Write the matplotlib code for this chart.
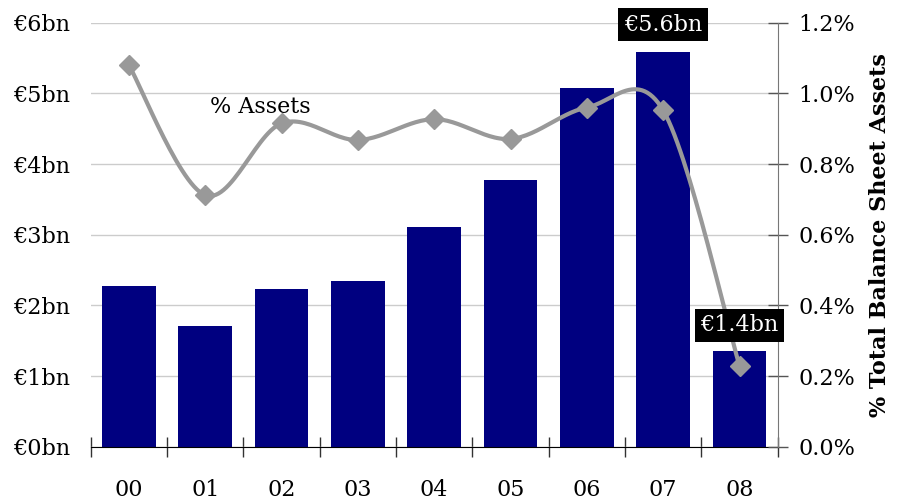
import numpy as np
import matplotlib.pyplot as plt

# dane
years = ['00', '01', '02', '03', '04', '05', '06', '07', '08']
amount_bn = [2.27, 1.71, 2.23, 2.34, 3.11, 3.77, 5.08, 5.59, 1.36]
pct_assets = [1.08, 0.712, 0.915, 0.868, 0.927, 0.871, 0.96, 0.952, 0.229]
left_ticks = ['€0bn', '€1bn', '€2bn', '€3bn', '€4bn', '€5bn', '€6bn']
right_ticks = ['0.0%', '0.2%', '0.4%', '0.6%', '0.8%', '1.0%', '1.2%']

plt.rcParams['font.family'] = ['DejaVu Serif']
FS = 16


def smooth(x, y, n=30):
    # krzywa Catmull-Rom jak "wygladzona linia" w Excelu
    x = np.asarray(x, float)
    y = np.asarray(y, float)
    px = np.concatenate([[x[0]], x, [x[-1]]])
    py = np.concatenate([[y[0]], y, [y[-1]]])
    xs, ys = [], []
    for i in range(1, len(px) - 2):
        p0, p1, p2, p3 = [np.array([px[j], py[j]]) for j in range(i - 1, i + 3)]
        c1 = p1 + (p2 - p0) / 6
        c2 = p2 - (p3 - p1) / 6
        t = np.linspace(0, 1, n)[:, None]
        b = ((1 - t) ** 3) * p1 + 3 * ((1 - t) ** 2) * t * c1 + 3 * (1 - t) * t ** 2 * c2 + t ** 3 * p2
        xs.extend(b[:, 0])
        ys.extend(b[:, 1])
    return xs, ys


fig = plt.figure(figsize=(8.98, 5), dpi=100)
ax = fig.add_axes([0.101, 0.1066, 0.765, 0.848])
x = np.arange(len(years))

ax.bar(x, amount_bn, width=0.7, color='#000080', zorder=2)
ax.set_xlim(-0.5, len(years) - 0.5)
ax.set_ylim(0, 6)
ax.set_yticks(range(7))
ax.set_yticklabels(left_ticks)
ax.tick_params(axis='y', length=0, pad=15, labelsize=FS)
ax.grid(axis='y', color='#cccccc', linewidth=1, zorder=0)
ax.set_axisbelow(True)

ax.set_xticks(x)
ax.set_xticklabels(years)
ax.tick_params(axis='x', length=0, pad=23, labelsize=FS)
ax.set_xticks(np.arange(-0.5, len(years)), minor=True)
ax.tick_params(axis='x', which='minor', direction='inout', length=14, width=1, color='#333333')

for s in ['top', 'right', 'left']:
    ax.spines[s].set_visible(False)
ax.spines['bottom'].set_color('black')

ax2 = ax.twinx()
ax2.set_ylim(0, 1.2)
ax2.set_yticks(np.arange(0, 1.21, 0.2))
ax2.set_yticklabels(right_ticks)
ax2.tick_params(axis='y', direction='inout', length=14, width=1, color='#555555', pad=8, labelsize=FS)
for s in ['top', 'left', 'bottom']:
    ax2.spines[s].set_visible(False)
ax2.spines['right'].set_color('#777777')

sx, sy = smooth(x, pct_assets)
ax2.plot(sx, sy, color='#999999', linewidth=3, zorder=3)
ax2.plot(x, pct_assets, linestyle='none', marker='D', markersize=10, color='#999999', zorder=4)
ax2.set_ylabel('% Total Balance Sheet Assets', fontsize=FS, fontweight='bold', labelpad=10)

# etykiety (os procentowa = bn / 5)
ax2.text(1.06, 4.81 / 5, '% Assets', fontsize=FS, va='center', ha='left', zorder=5)
ax2.text(7, 5.97 / 5, '€5.6bn', fontsize=FS, color='white', ha='center', va='center', zorder=6,
         bbox=dict(facecolor='black', edgecolor='none', pad=4), clip_on=False)
ax2.text(8, 1.72 / 5, '€1.4bn', fontsize=FS, color='white', ha='center', va='center', zorder=6,
         bbox=dict(facecolor='black', edgecolor='none', pad=4), clip_on=False)

plt.savefig('out.png', dpi=100)
